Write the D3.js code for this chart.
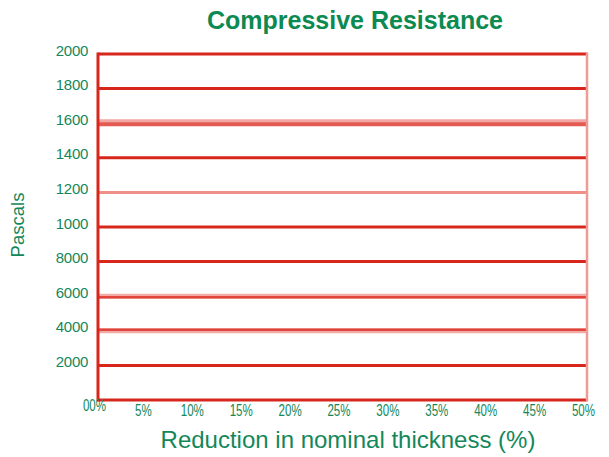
<!DOCTYPE html>
<html>
<head>
<meta charset="utf-8">
<script src="https://cdn.jsdelivr.net/npm/d3@7"></script>
<style>
  body { margin: 0; background: #fff; }
  text { font-family: "Liberation Sans", Arial, sans-serif; }
</style>
</head>
<body>
<div id="chart"></div>
<script>
// tick values and labels as printed on the chart
const yTickValues = [2000, 4000, 6000, 8000, 10000, 12000, 14000, 16000, 18000, 20000];
const yTickLabels = ['2000', '4000', '6000', '8000', '1000', '1200', '1400', '1600', '1800', '2000'];
const xTickValues = [0, 5, 10, 15, 20, 25, 30, 35, 40, 45, 50];
const xTickLabels = ['00%', '5%', '10%', '15%', '20%', '25%', '30%', '35%', '40%', '45%', '50%'];

const width = 609, height = 457;
const margin = { top: 54, right: 22, bottom: 57, left: 98 };
const green = '#14875a';
const red = '#d9261c';

const svg = d3.select('#chart').append('svg')
  .attr('width', width)
  .attr('height', height);

const x = d3.scaleLinear().domain([0, 50]).range([margin.left, width - margin.right]);
const y = d3.scaleLinear().domain([0, 20000]).range([height - margin.bottom, margin.top]);

// gridline look per level (some lines in the original are drawn lighter / doubled)
function gridStyle(v) {
  if (v === 16000) return [{ c: '#f2a8a4', w: 6, dy: -1 }, { c: '#e45b53', w: 4, dy: 1 }];
  if (v === 12000) return [{ c: '#f08e88', w: 3, dy: 0 }];
  if (v === 6000 || v === 4000) return [{ c: '#f2aaa6', w: 5, dy: 0 }, { c: '#e0453c', w: 2.5, dy: v === 6000 ? 1 : -1 }];
  return [{ c: red, w: 3, dy: 0 }];
}

const grid = svg.append('g');
yTickValues.forEach(v => {
  gridStyle(v).forEach(s => {
    grid.append('line')
      .attr('x1', x(0)).attr('x2', x(50))
      .attr('y1', y(v) + s.dy).attr('y2', y(v) + s.dy)
      .attr('stroke', s.c).attr('stroke-width', s.w);
  });
});

// bottom axis line
svg.append('line')
  .attr('x1', x(0)).attr('x2', x(50))
  .attr('y1', y(0)).attr('y2', y(0))
  .attr('stroke', red).attr('stroke-width', 3);

// left and right borders
svg.append('line')
  .attr('x1', x(0)).attr('x2', x(0))
  .attr('y1', y(20000) - 1.5).attr('y2', y(0) + 1.5)
  .attr('stroke', red).attr('stroke-width', 3);
svg.append('line')
  .attr('x1', x(50)).attr('x2', x(50))
  .attr('y1', y(20000) - 1.5).attr('y2', y(0) + 1.5)
  .attr('stroke', '#f09a95').attr('stroke-width', 2.5);

// y axis labels
const yAxis = d3.axisLeft(y)
  .tickValues(yTickValues)
  .tickFormat((d, i) => yTickLabels[i])
  .tickSize(0)
  .tickPadding(10);
const gy = svg.append('g')
  .attr('transform', `translate(${x(0)},0)`)
  .call(yAxis);
gy.select('.domain').remove();
gy.selectAll('text')
  .attr('fill', green)
  .attr('dy', '0.07em')
  .style('font-size', '15px')
  .style('letter-spacing', '-0.3px');

// x axis labels (narrow font in the original)
const xAxis = d3.axisBottom(x)
  .tickValues(xTickValues)
  .tickFormat((d, i) => xTickLabels[i])
  .tickSize(0)
  .tickPadding(0);
const gx = svg.append('g')
  .attr('transform', `translate(-4,${y(0)})`)
  .call(xAxis);
gx.select('.domain').remove();
gx.selectAll('text')
  .attr('fill', green)
  .attr('y', d => d === 0 ? 11 : 16)
  .attr('dy', 0)
  .attr('transform', 'scale(0.68,1)')
  .style('font-size', '17px');

// title
svg.append('text')
  .attr('x', 355).attr('y', 29)
  .attr('text-anchor', 'middle')
  .attr('fill', '#0b8a52')
  .style('font-size', '25px')
  .style('font-weight', 'bold')
  .text('Compressive Resistance');

// axis titles
svg.append('text')
  .attr('transform', 'translate(24,225) rotate(-90)')
  .attr('text-anchor', 'middle')
  .attr('fill', green)
  .style('font-size', '18.5px')
  .text('Pascals');

svg.append('text')
  .attr('x', 348).attr('y', 448)
  .attr('text-anchor', 'middle')
  .attr('fill', green)
  .style('font-size', '24px')
  .text('Reduction in nominal thickness (%)');
</script>
</body>
</html>
